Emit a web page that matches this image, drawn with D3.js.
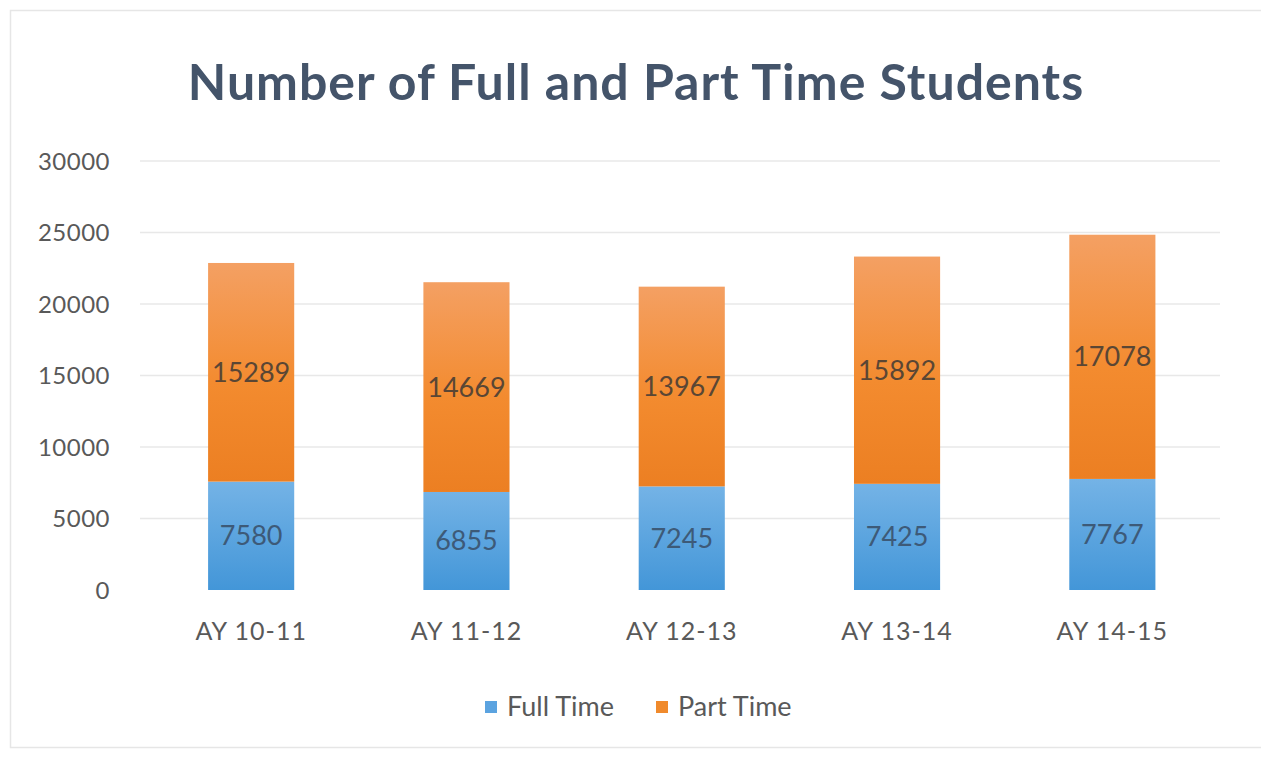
<!DOCTYPE html>
<html><head><meta charset="utf-8">
<script src="https://cdn.jsdelivr.net/npm/d3@7"></script>
<style>body{margin:0;background:#fff;} svg{display:block;}</style>
</head><body>
<svg id="c" width="1261" height="758"></svg>
<script>
const categories = ["AY 10-11","AY 11-12","AY 12-13","AY 13-14","AY 14-15"];
const fullTime = [7580, 6855, 7245, 7425, 7767];
const partTime = [15289, 14669, 13967, 15892, 17078];
const seriesNames = ["Full Time","Part Time"];
const yTicks = [0,5000,10000,15000,20000,25000,30000];

const svg = d3.select("#c");
const font = "Lato, 'Open Sans', sans-serif";

// frame
svg.append("rect").attr("x",10.5).attr("y",10.5).attr("width",1262).attr("height",737)
  .attr("fill","#fff").attr("stroke","#e6e6e6").attr("stroke-width",1.5);

const defs = svg.append("defs");
const gB = defs.append("linearGradient").attr("id","gB").attr("x1",0).attr("y1",0).attr("x2",0).attr("y2",1);
gB.append("stop").attr("offset","0%").attr("stop-color","#74b3e6");
gB.append("stop").attr("offset","100%").attr("stop-color","#4396d8");
const gO = defs.append("linearGradient").attr("id","gO").attr("x1",0).attr("y1",0).attr("x2",0).attr("y2",1);
gO.append("stop").attr("offset","0%").attr("stop-color","#f4a063");
gO.append("stop").attr("offset","55%").attr("stop-color","#f38b2f");
gO.append("stop").attr("offset","100%").attr("stop-color","#ec7f22");

const x = d3.scaleBand().domain(categories).range([143.5, 1220]).paddingInner(0.6).paddingOuter(0.3);
const y = d3.scaleLinear().domain([0,30000]).range([590,161]);

// gridlines
svg.append("g").selectAll("line").data(yTicks.slice(1)).join("line")
  .attr("x1",140).attr("x2",1220).attr("y1",d=>y(d)).attr("y2",d=>y(d))
  .attr("stroke","#e8e8e8").attr("stroke-width",1.5);

// y axis labels
const yAxis = d3.axisLeft(y).tickValues(yTicks).tickSize(0).tickPadding(0).tickFormat(d3.format("d"));
const ya = svg.append("g").attr("transform","translate(110,0)").call(yAxis);
ya.select(".domain").remove();
ya.selectAll("text").attr("font-family",font).attr("font-size",24).attr("letter-spacing","0.5px")
  .attr("fill","#595959").attr("dy","0.35em");

// x axis labels
const xAxis = d3.axisBottom(x).tickSize(0).tickPadding(0);
const xa = svg.append("g").attr("transform","translate(0,622)").call(xAxis);
xa.select(".domain").remove();
xa.selectAll("text").attr("font-family",font).attr("font-size",25).attr("letter-spacing","1px")
  .attr("fill","#595959").attr("dy","0.71em");

const stackData = categories.map((c,i)=>({cat:c, "Full Time":fullTime[i], "Part Time":partTime[i]}));
const stack = d3.stack().keys(seriesNames)(stackData);
const fills = {"Full Time":"url(#gB)","Part Time":"url(#gO)"};

const layers = svg.append("g").selectAll("g").data(stack).join("g");
layers.selectAll("rect").data(d=>d.map(v=>Object.assign(v,{key:d.key}))).join("rect")
  .attr("x",d=>x(d.data.cat)).attr("width",x.bandwidth())
  .attr("y",d=>y(d[1])).attr("height",d=>y(d[0])-y(d[1]))
  .attr("fill",d=>fills[d.key]);
layers.selectAll("text").data(d=>d).join("text")
  .attr("x",d=>x(d.data.cat)+x.bandwidth()/2)
  .attr("y",d=>(y(d[0])+y(d[1]))/2)
  .attr("text-anchor","middle").attr("dy","0.35em")
  .attr("font-family",font).attr("font-size",27)
  .attr("fill",d=>d.key==="Full Time"?"#3d5a78":"#5a4634")
  .text(d=>d[1]-d[0]);

// title
svg.append("text").attr("x",636).attr("y",100).attr("text-anchor","middle")
  .attr("font-family",font).attr("font-weight","bold").attr("font-size",50).attr("letter-spacing","1px")
  .attr("fill","#44546a").text("Number of Full and Part Time Students");

// legend
const legend = svg.append("g");
const lx = [485, 656];
seriesNames.forEach((s,i)=>{
  legend.append("rect").attr("x",lx[i]).attr("y",701).attr("width",12).attr("height",12)
    .attr("fill", i===0?"#5ba3e0":"#f08a2c");
  legend.append("text").attr("x",lx[i]+22).attr("y",707).attr("dy","0.35em")
    .attr("font-family",font).attr("font-size",27).attr("fill","#595959").text(s);
});
</script>
</body></html>
